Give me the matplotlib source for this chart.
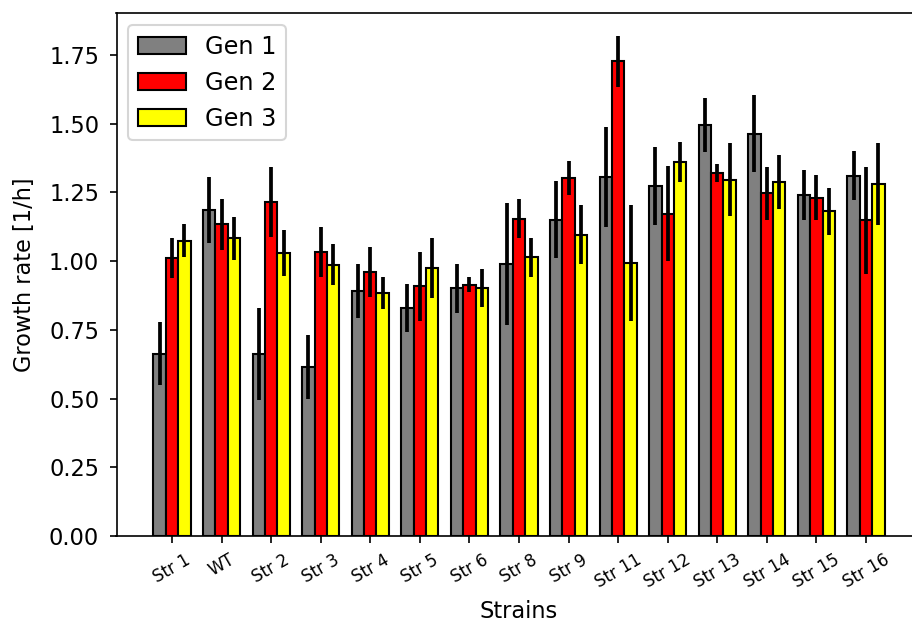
import numpy as np
import matplotlib
matplotlib.use("Agg")
import matplotlib.pyplot as plt

# Growth rates per strain for three generations, with their spreads
strains = ["Str 1", "WT", "Str 2", "Str 3", "Str 4", "Str 5", "Str 6", "Str 8",
           "Str 9", "Str 11", "Str 12", "Str 13", "Str 14", "Str 15", "Str 16"]

gen1 = [0.663, 1.186, 0.663, 0.614, 0.892, 0.830, 0.901, 0.991,
        1.151, 1.307, 1.274, 1.494, 1.463, 1.239, 1.311]
gen1_err = [0.114, 0.121, 0.168, 0.116, 0.099, 0.088, 0.089, 0.222,
            0.141, 0.182, 0.142, 0.098, 0.140, 0.091, 0.089]

gen2 = [1.012, 1.134, 1.215, 1.034, 0.960, 0.908, 0.914, 1.155,
        1.303, 1.727, 1.173, 1.320, 1.247, 1.231, 1.148]
gen2_err = [0.074, 0.094, 0.128, 0.091, 0.092, 0.125, 0.027, 0.072,
            0.062, 0.093, 0.172, 0.033, 0.096, 0.082, 0.195]

gen3 = [1.075, 1.083, 1.030, 0.987, 0.884, 0.975, 0.902, 1.014,
        1.096, 0.995, 1.361, 1.296, 1.287, 1.181, 1.280]
gen3_err = [0.061, 0.079, 0.084, 0.074, 0.059, 0.108, 0.069, 0.072,
            0.108, 0.211, 0.072, 0.133, 0.098, 0.086, 0.150]

series = [
    ("Gen 1", gen1, gen1_err, "gray", -0.25),
    ("Gen 2", gen2, gen2_err, "red", 0.0),
    ("Gen 3", gen3, gen3_err, "yellow", 0.25),
]

plt.rcParams["font.size"] = 10.8

fig = plt.figure(figsize=(6.08, 4.16), dpi=150)
ax = fig.add_axes([116.5 / 912, 88 / 624, (921.5 - 116.5) / 912, (536 - 13) / 624])

x = np.arange(len(strains))
width = 0.25
for label, vals, errs, color, offset in series:
    ax.bar(x + offset, vals, width, yerr=errs, color=color,
           edgecolor="black", linewidth=1.0, label=label,
           error_kw=dict(ecolor="black", elinewidth=1.8, capsize=0))

ax.set_xticks(x)
ax.set_xticklabels(strains, rotation=30, fontsize=8)
ax.set_xlim(-1.12, 15.12)
ax.set_ylim(0, 1.903)
ax.set_yticks(np.arange(0, 1.76, 0.25))
ax.tick_params(axis="y", pad=4.8)
ax.set_xlabel("Strains")
ax.set_ylabel("Growth rate [1/h]", labelpad=6)
ax.legend(loc="upper left", fontsize=11.5)

fig.savefig("out.png", dpi=150)
